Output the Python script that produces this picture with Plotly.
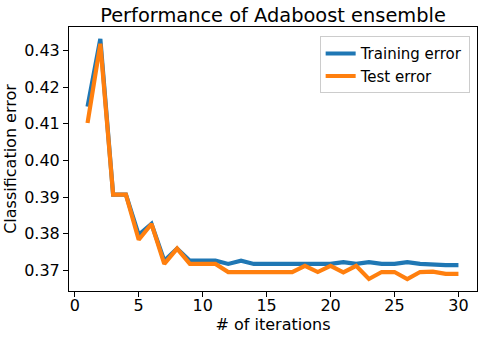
import plotly.graph_objects as go

iterations = list(range(1, 31))
train_error = [0.4147, 0.4331, 0.3907, 0.3907, 0.3797, 0.3827, 0.3727, 0.3760, 0.3727, 0.3727,
               0.3727, 0.3718, 0.3727, 0.3718, 0.3718, 0.3718, 0.3718, 0.3718, 0.3718, 0.3718,
               0.3723, 0.3718, 0.3723, 0.3718, 0.3718, 0.3723, 0.3718, 0.3716, 0.3715, 0.3715]
test_error = [0.4102, 0.4318, 0.3907, 0.3907, 0.3784, 0.3827, 0.3718, 0.3760, 0.3718, 0.3718,
              0.3718, 0.3696, 0.3696, 0.3696, 0.3696, 0.3696, 0.3696, 0.3713, 0.3696, 0.3713,
              0.3695, 0.3713, 0.3677, 0.3696, 0.3696, 0.3677, 0.3696, 0.3697, 0.3691, 0.3691]
x_ticks = [0, 5, 10, 15, 20, 25, 30]
y_ticks = [0.37, 0.38, 0.39, 0.40, 0.41, 0.42, 0.43]

allv = train_error + test_error
ymin, ymax = min(allv), max(allv)
yp = 0.05 * (ymax - ymin)
xmin, xmax = min(iterations), max(iterations)
xp = 0.05 * (xmax - xmin)

font = "DejaVu Sans"
fig = go.Figure()
fig.add_trace(go.Scatter(x=iterations, y=train_error, mode="lines", name="Training error",
                         line=dict(color="#1f77b4", width=4.2)))
fig.add_trace(go.Scatter(x=iterations, y=test_error, mode="lines", name="Test error",
                         line=dict(color="#ff7f0e", width=4.2)))

axis_common = dict(showline=True, linecolor="black", linewidth=1.1, mirror=True,
                   ticks="outside", ticklen=5, tickwidth=1.1, tickcolor="black",
                   showgrid=False, zeroline=False, automargin=False,
                   tickfont=dict(family=font, size=16, color="black"))

fig.update_layout(
    width=483, height=339,
    margin=dict(l=69, r=6, t=27, b=48),
    paper_bgcolor="white", plot_bgcolor="white",
    font=dict(family=font, size=16, color="black"),
    title=dict(text="Performance of Adaboost ensemble", x=(69 + 477) / 2 / 483, xanchor="center",
               y=1 - 15 / 339, yanchor="middle", yref="container",
               font=dict(family=font, size=19.4, color="black")),
    xaxis=dict(range=[xmin - xp, xmax + xp], tickvals=x_ticks, ticklabelstandoff=-5,
               title=dict(text="# of iterations", standoff=4,
                          font=dict(family=font, size=16, color="black")),
               **axis_common),
    yaxis=dict(range=[ymin - yp, ymax + yp], tickvals=y_ticks, tickformat=".2f",
               title=dict(text="Classification error", standoff=3,
                          font=dict(family=font, size=16, color="black")),
               **axis_common),
    legend=dict(x=0.982, y=0.965, xanchor="right", yanchor="top",
                bgcolor="rgba(255,255,255,0.8)", bordercolor="#cccccc", borderwidth=1,
                font=dict(family=font, size=15, color="black"),
                itemwidth=30, tracegroupgap=0),
    showlegend=True,
)

fig.write_html("out.html")
